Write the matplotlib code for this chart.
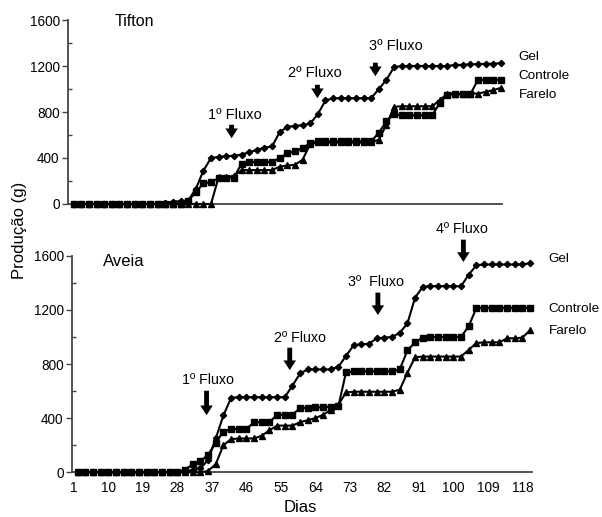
import matplotlib.pyplot as plt
from matplotlib.ticker import MultipleLocator

plt.rcParams['font.family'] = ['Liberation Sans', 'DejaVu Sans']

# dias de leitura (a cada 2 dias)
dias_tifton = [2, 4, 6, 8, 10, 12, 14, 16, 18, 20, 22, 24, 26, 28, 30, 32, 34, 36, 38, 40,
               42, 44, 46, 48, 50, 52, 54, 56, 58, 60, 62, 64, 66, 68, 70, 72, 74, 76, 78, 80,
               82, 84, 86, 88, 90, 92, 94, 96, 98, 100, 102, 104, 106, 108, 110, 112, 114]
dias_aveia = [2, 4, 6, 8, 10, 12, 14, 16, 18, 20, 22, 24, 26, 28, 30, 32, 34, 36, 38, 40,
              42, 44, 46, 48, 50, 52, 54, 56, 58, 60, 62, 64, 66, 68, 70, 72, 74, 76, 78, 80,
              82, 84, 86, 88, 90, 92, 94, 96, 98, 100, 102, 104, 106, 108, 110, 112, 114, 116, 118, 120]

# producao acumulada (g) - Tifton
tifton_gel = [0, 0, 0, 0, 0, 0, 0, 0, 0, 0, 0, 0, 10, 20, 25, 30, 130, 290, 400, 410,
              415, 420, 430, 450, 470, 490, 500, 625, 670, 680, 685, 700, 780, 900, 920, 920, 920, 920, 920, 920,
              1000, 1080, 1190, 1200, 1200, 1200, 1200, 1200, 1200, 1200, 1210, 1210, 1215, 1215, 1220, 1220, 1225]
tifton_controle = [0, 0, 0, 0, 0, 0, 0, 0, 0, 0, 0, 0, 0, 0, 0, 30, 100, 180, 190, 225,
                   225, 230, 350, 365, 365, 365, 365, 400, 440, 460, 485, 530, 545, 545, 545, 545, 545, 545, 545, 545,
                   620, 720, 780, 770, 770, 770, 770, 770, 880, 950, 955, 955, 955, 1080, 1080, 1080, 1080]
tifton_farelo = [0, 0, 0, 0, 0, 0, 0, 0, 0, 0, 0, 0, 0, 0, 0, 0, 0, 0, 0, 235,
                 235, 240, 295, 295, 295, 295, 295, 325, 335, 340, 385, 520, 535, 535, 535, 535, 535, 535, 535, 535,
                 560, 690, 845, 850, 850, 850, 850, 850, 905, 960, 960, 960, 960, 960, 975, 990, 1010]

# producao acumulada (g) - Aveia
aveia_gel = [0, 0, 0, 0, 0, 0, 0, 0, 0, 0, 0, 0, 0, 5, 10, 15, 30, 90, 250, 420,
             550, 555, 555, 555, 555, 555, 555, 555, 640, 730, 760, 760, 760, 760, 780, 860, 940, 945, 950, 990,
             995, 1000, 1030, 1100, 1290, 1370, 1375, 1375, 1375, 1375, 1375, 1460, 1530, 1535, 1535, 1535, 1535, 1535, 1535, 1545]
aveia_controle = [0, 0, 0, 0, 0, 0, 0, 0, 0, 0, 0, 0, 0, 0, 20, 60, 80, 130, 220, 300,
                  320, 320, 320, 370, 370, 370, 425, 425, 425, 475, 475, 480, 480, 485, 490, 740, 745, 745, 745, 745,
                  745, 745, 760, 900, 960, 995, 1000, 1000, 1000, 1000, 1000, 1080, 1215, 1215, 1215, 1215, 1215, 1215, 1215, 1215]
aveia_farelo = [0, 0, 0, 0, 0, 0, 0, 0, 0, 0, 0, 0, 0, 0, 0, 0, 0, 10, 60, 200,
                245, 250, 250, 250, 270, 310, 345, 345, 345, 370, 385, 400, 425, 460, 500, 590, 595, 595, 595, 595,
                595, 595, 610, 735, 850, 855, 855, 855, 855, 855, 855, 905, 955, 960, 960, 960, 990, 990, 995, 1050]

rotulos_x = [1, 10, 19, 28, 37, 46, 55, 64, 73, 82, 91, 100, 109, 118]
tratamentos = ['Gel', 'Controle', 'Farelo']
marcadores = ['D', 's', '^']
tamanhos = [3.2, 4.0, 4.5]


def formata_eixo(ax, xmax):
    for s in ['top', 'right']:
        ax.spines[s].set_visible(False)
    for s in ['left', 'bottom']:
        ax.spines[s].set_color('#444444')
        ax.spines[s].set_linewidth(1.3)
    ax.set_ylim(0, 1600)
    ax.set_xlim(0.5, xmax)
    ax.yaxis.set_major_locator(MultipleLocator(400))
    ax.yaxis.set_minor_locator(MultipleLocator(200))
    ax.tick_params(axis='y', which='major', direction='out', length=4, width=1, color='#444444',
                   labelsize=9.8, pad=2)
    ax.tick_params(axis='y', which='minor', direction='in', length=3, width=1, color='#444444')


def seta(ax, x, y_ini, y_fim):
    ax.annotate('', xy=(x, y_fim), xytext=(x, y_ini), annotation_clip=False,
                arrowprops=dict(arrowstyle='simple,head_width=0.9,head_length=0.7,tail_width=0.35',
                                color='black', lw=0))


fig = plt.figure(figsize=(6.02, 5.17), dpi=100)
ax1 = fig.add_axes([68 / 602, 1 - 204 / 517, 434 / 602, 184 / 517])
ax2 = fig.add_axes([72 / 602, 1 - 472.3 / 517, 460 / 602, 216.6 / 517])

# Tifton
for serie, m, ms in zip([tifton_gel, tifton_controle, tifton_farelo], marcadores, tamanhos):
    ax1.plot(dias_tifton, serie, color='black', lw=1.5, marker=m, ms=ms, clip_on=False, zorder=3)
formata_eixo(ax1, 114.3)
ax1.set_xticks([])
ax1.text(12.8, 1583, 'Tifton', fontsize=11.5, va='center', ha='left')
seta(ax1, 43.4, 713, 548)
seta(ax1, 65.9, 1061, 896)
seta(ax1, 81.1, 1253, 1087)
ax1.text(44.2, 774, '1º Fluxo', fontsize=10.5, ha='center', va='center')
ax1.text(65.2, 1140, '2º Fluxo', fontsize=10.5, ha='center', va='center')
ax1.text(86.6, 1375, '3º Fluxo', fontsize=10.5, ha='center', va='center')
for nome, y in zip(tratamentos, [1279, 1114, 948]):
    ax1.text(118.6, y, nome, fontsize=9.7, ha='left', va='center', clip_on=False)

# Aveia
for serie, m, ms in zip([aveia_gel, aveia_controle, aveia_farelo], marcadores, tamanhos):
    ax2.plot(dias_aveia, serie, color='black', lw=1.5, marker=m, ms=ms, clip_on=False, zorder=3)
formata_eixo(ax2, 120.5)
ax2.set_xticks(rotulos_x)
ax2.set_xticklabels([str(r) for r in rotulos_x])
ax2.tick_params(axis='x', length=0, labelsize=9.8, pad=6)
ax2.text(8.6, 1554, 'Aveia', fontsize=12, va='center', ha='left')
seta(ax2, 35.6, 623, 401)
seta(ax2, 57.3, 941, 734)
seta(ax2, 80.3, 1348, 1141)
seta(ax2, 102.6, 1739, 1533)
ax2.text(36.1, 683, '1º Fluxo', fontsize=10.3, ha='center', va='center')
ax2.text(59.9, 994, '2º Fluxo', fontsize=10.3, ha='center', va='center')
ax2.text(79.8, 1405, '3º  Fluxo', fontsize=10.3, ha='center', va='center')
ax2.text(102.3, 1797, '4º Fluxo', fontsize=10.3, ha='center', va='center', clip_on=False)
for nome, y in zip(tratamentos, [1576, 1207, 1045]):
    ax2.text(124.8, y, nome, fontsize=9.7, ha='left', va='center', clip_on=False)

fig.text(20 / 602, 1 - 230 / 517, 'Produção (g)', rotation=90, fontsize=12, ha='center', va='center')
fig.text(300 / 602, 1 - 507 / 517, 'Dias', fontsize=12, ha='center', va='center')

fig.savefig('out.png', dpi=100)
